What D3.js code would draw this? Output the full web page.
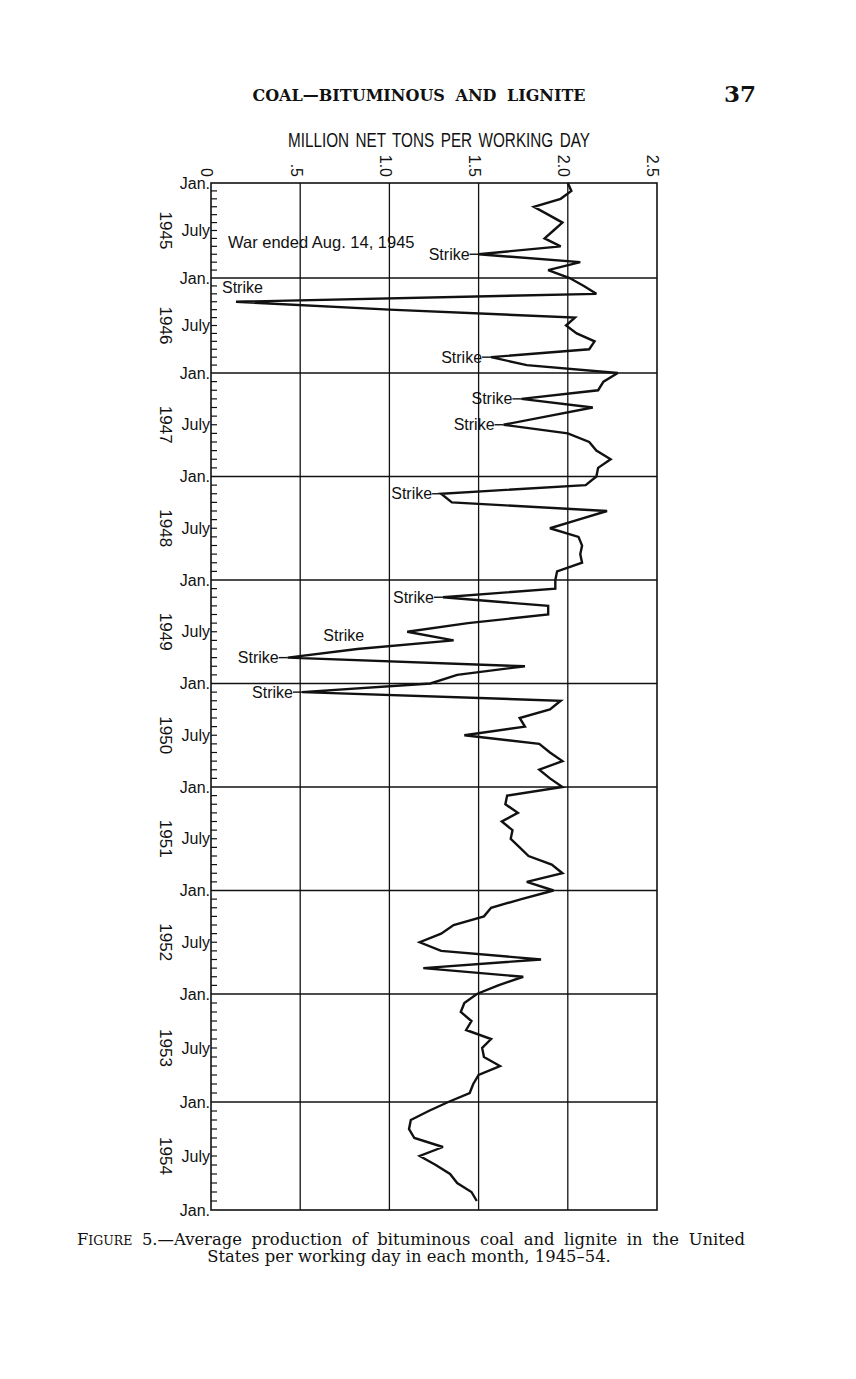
<!DOCTYPE html>
<html>
<head>
<meta charset="utf-8">
<script src="https://cdn.jsdelivr.net/npm/d3@7"></script>
<style>
  body { margin: 0; background: #fff; }
  svg { display: block; }
  .sans { font-family: "Liberation Sans", Arial, sans-serif; fill: #111; }
  .serif { font-family: "DejaVu Serif", "Liberation Serif", serif; fill: #111; }
</style>
</head>
<body>
<svg width="856" height="1379"></svg>
<script>
// Years on the chart, top to bottom
const years = [1945, 1946, 1947, 1948, 1949, 1950, 1951, 1952, 1953, 1954];
// Million net tons per working day, Jan..Dec of each year
const perDay = [
  [2.00, 2.02, 1.96, 1.81, 1.89, 1.97, 1.92, 1.87, 1.96, 1.50, 2.07, 1.89], // 1945
  [2.01, 2.09, 2.16, 0.14, 1.00, 2.04, 1.99, 2.05, 2.15, 2.12, 1.57, 1.77], // 1946
  [2.28, 2.20, 2.17, 1.74, 2.14, 1.89, 1.64, 2.00, 2.12, 2.16, 2.24, 2.17], // 1947
  [2.16, 2.10, 1.29, 1.35, 2.22, 2.06, 1.90, 2.06, 2.08, 2.07, 2.08, 1.94], // 1948
  [1.93, 1.93, 1.30, 1.89, 1.89, 1.44, 1.10, 1.36, 0.82, 0.43, 1.76, 1.38], // 1949
  [1.23, 0.51, 1.96, 1.90, 1.73, 1.76, 1.42, 1.84, 1.90, 1.97, 1.84, 1.90], // 1950
  [1.97, 1.66, 1.65, 1.72, 1.63, 1.69, 1.68, 1.73, 1.78, 1.91, 1.97, 1.77], // 1951
  [1.92, 1.74, 1.57, 1.53, 1.36, 1.29, 1.17, 1.29, 1.85, 1.19, 1.75, 1.61], // 1952
  [1.49, 1.42, 1.40, 1.46, 1.43, 1.57, 1.52, 1.53, 1.62, 1.50, 1.47, 1.45], // 1953
  [1.33, 1.22, 1.12, 1.11, 1.14, 1.30, 1.17, 1.26, 1.34, 1.38, 1.46, 1.49]  // 1954
];
// Value axis along the top
const xTicks = [0, 0.5, 1.0, 1.5, 2.0, 2.5];
const xTickLabels = ["0", ".5", "1.0", "1.5", "2.0", "2.5"];
// Month labels on the time axis (month index within a year)
const monthLabels = [[0, "Jan."], [6, "July"]];
// Strike notes: month counted from Jan. 1945; kind says how it is attached
const notes = [
  [9, "Strike", "leader"],
  [15, "Strike", "above"],
  [22, "Strike", "leader"],
  [27, "Strike", "leader"],
  [30, "Strike", "leader"],
  [38, "Strike", "leader"],
  [50, "Strike", "leader"],
  [54, "Strike", "apart"],
  [57, "Strike", "leader"],
  [61, "Strike", "leader"]
];
const warNote = [7.45, "War ended Aug. 14, 1945"];

const series = perDay.flat().map((v, m) => ({ m, v }));

const svg = d3.select("svg");

const x = d3.scaleLinear().domain([0, 2.5]).range([211, 657]);
// the printed grid is not evenly spaced (1945-46 are squeezed), so pin the scale to its Jan. rules
const y = d3.scaleLinear().domain([0, 24, 96, 120]).range([183, 373, 994, 1210]);

// page header
svg.append("text").attr("class", "serif")
  .attr("x", 419).attr("y", 101)
  .attr("text-anchor", "middle")
  .style("font-size", "16px").style("font-weight", "bold").style("word-spacing", "5px")
  .text("COAL\u2014BITUMINOUS AND LIGNITE");
svg.append("text").attr("class", "serif")
  .attr("x", 756).attr("y", 102)
  .attr("text-anchor", "end")
  .style("font-size", "23px").style("font-weight", "bold")
  .text("37");

// axis title (the print uses a condensed face)
svg.append("text").attr("class", "sans")
  .attr("x", 288).attr("y", 147)
  .attr("textLength", 302).attr("lengthAdjust", "spacingAndGlyphs")
  .style("font-size", "20.5px")
  .style("word-spacing", "3px")
  .text("MILLION NET TONS PER WORKING DAY");

// grid
const grid = svg.append("g").attr("stroke", "#111").attr("stroke-width", 1.3);
grid.selectAll(".v").data(xTicks.slice(1, -1)).join("line")
  .attr("x1", d => x(d)).attr("x2", d => x(d))
  .attr("y1", y(0)).attr("y2", y(120));
grid.selectAll(".h").data(years.slice(1).map((d, i) => (i + 1) * 12)).join("line")
  .attr("x1", x(0)).attr("x2", x(2.5))
  .attr("y1", d => y(d)).attr("y2", d => y(d));
svg.append("rect")
  .attr("x", x(0)).attr("y", y(0))
  .attr("width", x(2.5) - x(0)).attr("height", y(120) - y(0))
  .attr("fill", "none").attr("stroke", "#111").attr("stroke-width", 1.6);

// month ticks inside the left edge
svg.append("g").attr("stroke", "#111").attr("stroke-width", 1.2)
  .selectAll("line").data(d3.range(1, 120).filter(m => m % 12 !== 0)).join("line")
  .attr("x1", x(0)).attr("x2", x(0) + 6)
  .attr("y1", d => y(d)).attr("y2", d => y(d));

// top value labels, turned on their side
svg.append("g").selectAll("text").data(xTicks).join("text")
  .attr("class", "sans")
  .attr("transform", d => `translate(${x(d) - 4},177) rotate(90)`)
  .attr("text-anchor", "end")
  .attr("dy", "0.35em")
  .style("font-size", "16px")
  .text((d, i) => xTickLabels[i]);

// time axis labels
const monthAxis = [];
years.forEach((yr, i) => monthLabels.forEach(([mo, t]) => monthAxis.push({ m: i * 12 + mo, t })));
monthAxis.push({ m: 120, t: "Jan." });
svg.append("g").selectAll("text").data(monthAxis).join("text")
  .attr("class", "sans")
  .attr("x", x(0) - 1).attr("y", d => y(d.m))
  .attr("dy", "0.35em")
  .attr("text-anchor", "end")
  .style("font-size", "16px")
  .text(d => d.t);
svg.append("g").selectAll("text").data(years).join("text")
  .attr("class", "sans")
  .attr("transform", (d, i) => `translate(166,${y(i * 12 + 6)}) rotate(90)`)
  .attr("text-anchor", "middle")
  .attr("dy", "0.35em")
  .style("font-size", "17px")
  .text(d => d);

// production line
svg.append("path").datum(series)
  .attr("fill", "none").attr("stroke", "#111").attr("stroke-width", 2.4)
  .attr("stroke-linejoin", "miter").attr("stroke-miterlimit", 3)
  .attr("d", d3.line().x(d => x(d.v)).y(d => y(d.m)));

// notes
svg.append("text").attr("class", "sans")
  .attr("x", x(0) + 17).attr("y", y(warNote[0])).attr("dy", "0.35em")
  .style("font-size", "16.5px")
  .text(warNote[1]);

const noteG = svg.append("g");
notes.forEach(([m, t, kind]) => {
  const px = x(series[m].v), py = y(m);
  if (kind === "leader") {
    noteG.append("line")
      .attr("x1", px - 9).attr("x2", px).attr("y1", py).attr("y2", py)
      .attr("stroke", "#111").attr("stroke-width", 1.4);
    noteG.append("text").attr("class", "sans")
      .attr("x", px - 9).attr("y", py).attr("dy", "0.35em")
      .attr("text-anchor", "end").style("font-size", "16px").text(t);
  } else if (kind === "above") {
    noteG.append("text").attr("class", "sans")
      .attr("x", px - 14).attr("y", py - 14).attr("dy", "0.35em")
      .style("font-size", "16px").text(t);
  } else {
    noteG.append("text").attr("class", "sans")
      .attr("x", px - 43).attr("y", py + 4).attr("dy", "0.35em")
      .attr("text-anchor", "end").style("font-size", "16px").text(t);
  }
});

// caption
const cap = svg.append("text").attr("class", "serif")
  .attr("x", 411).attr("y", 1245).attr("text-anchor", "middle")
  .style("font-size", "16.4px").style("word-spacing", "4.4px");
cap.append("tspan").text("F");
cap.append("tspan").style("font-size", "12.5px").text("IGURE");
cap.append("tspan").text(" 5.\u2014Average production of bituminous coal and lignite in the United");
svg.append("text").attr("class", "serif")
  .attr("x", 409).attr("y", 1262).attr("text-anchor", "middle")
  .style("font-size", "16.4px")
  .text("States per working day in each month, 1945\u201354.");
</script>
</body>
</html>
